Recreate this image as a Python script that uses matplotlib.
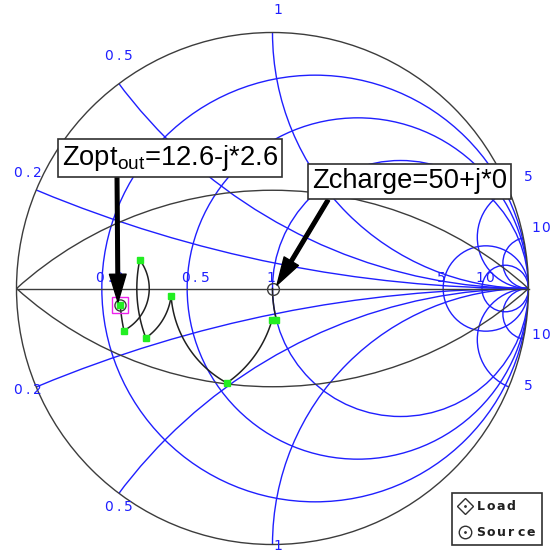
import numpy as np
import matplotlib
matplotlib.use('Agg')
import matplotlib.pyplot as plt
from matplotlib.patches import Circle, Rectangle

# Smith chart grid (normalised to 50 ohm)
r_circles = [0.2, 0.5, 1, 5, 10]
x_arcs = [0.2, 0.5, 1, 5, 10]
r_labels = ['0.2', '0.5', '1', '5', '10']
x_labels = ['0.2', '0.5', '1', '5', '10']
q_values = [0.9]

# matching path, from Zopt to Zcharge (ohms)
z_ref = 50.0
node_r = [12.6, 12.6, 15.5, 15.8, 21.6, 27.3, 48.3, 50.0, 50.0]
node_x = [-2.6, -6.5, 4.8, -8.5, -1.5, -24.2, -12.1, -12.5, 0.0]
zopt = (12.6, -2.6)
zcharge = (50.0, 0.0)

BLUE = '#1f1fff'
GREY = '#3c3c3c'

# pixel layout of the reference picture
CX, CY, RPX = 272.5, 288.5, 256.0
W, H = 552, 555


def px(x, y):
    return (x - CX) / RPX, (CY - y) / RPX


def gamma(r, x):
    z = complex(r, x) / z_ref
    return (z - 1) / (z + 1)


def arc(g1, g2, n=120):
    x1, y1, x2, y2 = g1.real, g1.imag, g2.real, g2.imag
    c = (x2**2 + y2**2 - x1**2 - y1**2) / (2 * (x2 - x1))
    rad = np.hypot(x1 - c, y1)
    a1 = np.arctan2(y1, x1 - c)
    a2 = np.arctan2(y2, x2 - c)
    d = (a2 - a1 + np.pi) % (2 * np.pi) - np.pi
    t = a1 + np.linspace(0, 1, n) * d
    return c + rad * np.cos(t), rad * np.sin(t)


def spaced(ax, x, y, s, pitch=10, **kw):
    for i, ch in enumerate(s):
        ax.text(x + (i + 0.5) * pitch / RPX, y, ch, ha='center', **kw)


plt.rcParams['mathtext.fontset'] = 'custom'
plt.rcParams['mathtext.rm'] = 'Liberation Sans'

fig = plt.figure(figsize=(W / 100, H / 100), dpi=100)
ax = fig.add_axes([0, 0, 1, 1])
x0, y0 = px(0, H)
x1, y1 = px(W, 0)
ax.set_xlim(x0, x1)
ax.set_ylim(y0, y1)
ax.axis('off')

clip = Circle((0, 0), 1, transform=ax.transData, fc='none', ec='none')
ax.add_patch(clip)

# resistance circles
for r in r_circles:
    c = Circle((r / (1 + r), 0), 1 / (1 + r), fc='none', ec=BLUE, lw=1.0)
    ax.add_patch(c)
    c.set_clip_path(clip)

# reactance arcs
for xv in x_arcs:
    for s in (1, -1):
        c = Circle((1, s / xv), 1 / xv, fc='none', ec=BLUE, lw=1.0)
        ax.add_patch(c)
        c.set_clip_path(clip)

# constant Q arcs
for q in q_values:
    for s in (1, -1):
        c = Circle((0, -s / q), np.sqrt(1 + 1 / q**2), fc='none', ec=GREY, lw=1.0)
        ax.add_patch(c)
        c.set_clip_path(clip)

ax.add_patch(Circle((0, 0), 1, fc='none', ec=GREY, lw=1.0))
ax.plot([-1, 1], [0, 0], color=GREY, lw=1.0)

lab_kw = dict(color=BLUE, fontsize=10, family='DejaVu Sans')

# labels on real axis
for r, lab in zip(r_circles, r_labels):
    spaced(ax, (r - 1) / (r + 1) - 7 / RPX, 3 / RPX, lab, va='bottom', **lab_kw)

# labels round the edge
for xv, lab in zip(x_arcs, x_labels):
    for s in (1, -1):
        g = gamma(0, s * xv * z_ref)
        k = 1.10 if g.real < -0.1 else 1.06
        gx, gy = k * g.real, k * g.imag
        if xv >= 10:
            gx = px(531, 0)[0]
            gy = 1.06 * g.imag
        if xv == 1 and s < 0:
            gy = px(0, 553)[1]
        spaced(ax, gx, gy, lab, va='bottom', **lab_kw)

# matching path
nodes = [gamma(r, x) for r, x in zip(node_r, node_x)]
for a, b in zip(nodes[:-1], nodes[1:]):
    xs, ys = arc(a, b)
    ax.plot(xs, ys, color='#202020', lw=1.1, zorder=4)
for g in nodes[:-1]:
    ax.plot(g.real, g.imag, 's', ms=4.5, mfc='#22ee22', mec='#22ee22', zorder=5)

gs = gamma(*zopt)
ax.plot(gs.real, gs.imag, 'o', ms=8, mfc='none', mec=GREY, mew=1.0, zorder=6)
ax.plot(gs.real, gs.imag, 's', ms=12, mfc='none', mec='#ee22ee', mew=1.0, zorder=6)
gl = gamma(*zcharge)
ax.plot(gl.real, gl.imag, 'o', ms=8.5, mfc='none', mec=GREY, mew=1.0, zorder=6)

# arrows and captions
arr = dict(facecolor='black', edgecolor='black', width=2.6, headwidth=12,
           headlength=20, shrink=0)
ax.annotate('', xy=px(118, 302), xytext=px(117, 176), arrowprops=arr, zorder=7)
ax.annotate('', xy=px(277, 285), xytext=px(328, 200), arrowprops=arr, zorder=7)

box = dict(boxstyle='square,pad=0.15', fc='white', ec='#303030', lw=1.2)
ax.text(*px(170, 158), r'Zopt$_{\mathrm{out}}$=12.6-j*2.6', fontsize=19.7,
        family='Liberation Sans', ha='center', va='center', bbox=box, zorder=8)
ax.text(*px(409.5, 181.5), 'Zcharge=50+j*0', fontsize=19.7,
        family='Liberation Sans', ha='center', va='center', bbox=box, zorder=8)

# legend
lx, ly = px(452, 545)
lx2, ly2 = px(542, 493)
ax.add_patch(Rectangle((lx, ly), lx2 - lx, ly2 - ly, fc='white', ec='#303030',
                       lw=1.2, zorder=8))
ax.plot(*px(465, 506), 'D', ms=8, mfc='none', mec='#303030', mew=1.0, zorder=9)
ax.plot(*px(465, 506), '.', ms=2, color='#303030', zorder=9)
ax.plot(*px(465, 532), 'o', ms=9, mfc='none', mec='#303030', mew=1.0, zorder=9)
ax.plot(*px(465, 532), '.', ms=2, color='#303030', zorder=9)
leg_kw = dict(color='#202020', fontsize=9, fontweight='bold', va='center',
              family='DejaVu Sans', zorder=9)
spaced(ax, *px(476, 506), 'Load', **leg_kw)
spaced(ax, *px(476, 532), 'Source', **leg_kw)

fig.savefig('out.png', dpi=100)
